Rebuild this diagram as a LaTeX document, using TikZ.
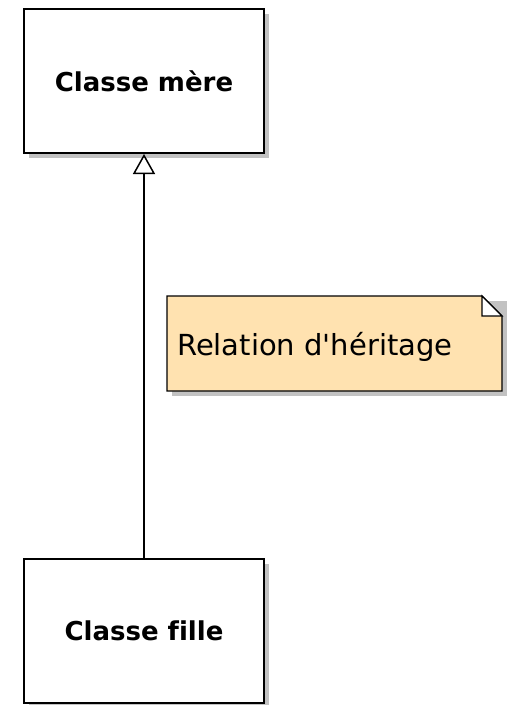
\documentclass[tikz,border=0pt]{standalone}
\usepackage{fontspec}
\setmainfont[Ligatures=NoCommon]{DejaVu Sans}
\usetikzlibrary{arrows.meta}
\definecolor{notefill}{HTML}{FFE2B0}
\definecolor{shadowgray}{HTML}{C2C2C2}
\tikzset{
  classbox/.style={draw=black, line width=2pt, fill=white, minimum width=240pt, minimum height=144pt, inner sep=0pt, font=\bfseries\fontsize{26}{31}\selectfont},
  inherit/.style={-{Triangle[open, length=20pt, width=22pt, fill=white]}, line width=1.5pt}
}
\begin{document}
\begin{tikzpicture}[x=1pt,y=-1pt]
\useasboundingbox (0,0) rectangle (508,705);
% shadows
\fill[shadowgray] (29,14) rectangle (269,158);
\fill[shadowgray] (29,564) rectangle (269,708);
\fill[shadowgray] (172,301) rectangle (507,396);
% classes
\node[classbox] (mere) at (144,81) {Classe mère};
\node[classbox] (fille) at (144,631) {Classe fille};
% inheritance
\draw[inherit] (fille.north) -- (mere.south);
% note
\path (167,296) coordinate (nA) (482,296) coordinate (nB) (502,316) coordinate (nC) (502,391) coordinate (nD) (167,391) coordinate (nE);
\filldraw[fill=notefill, draw=black, line width=1.2pt] (nA) -- (nB) -- (nC) -- (nD) -- (nE) -- cycle;
\filldraw[fill=white, draw=black, line width=1.2pt] (nB) -- (482,316) -- (nC) -- cycle;
\node[anchor=base west, inner sep=0pt, font=\fontsize{29}{34}\selectfont] (note) at (177,355) {Relation d\textquotesingle héritage};
\end{tikzpicture}
\end{document}
